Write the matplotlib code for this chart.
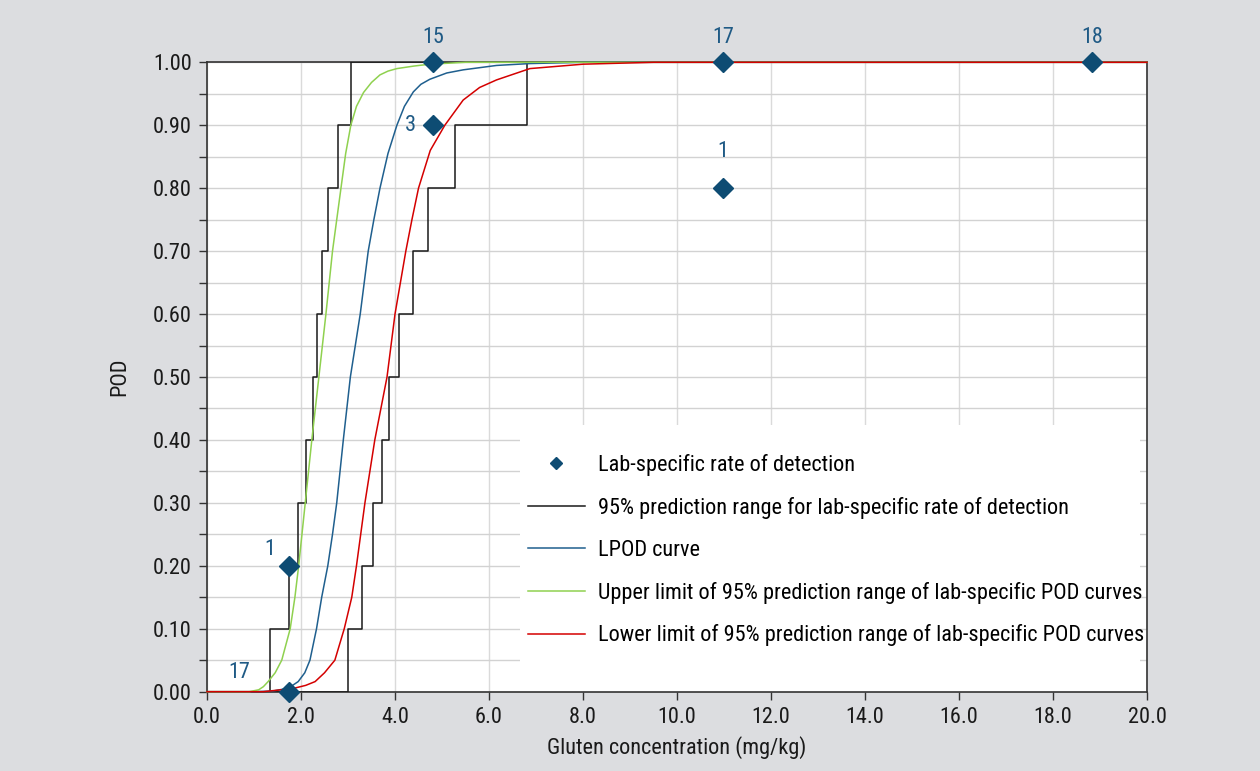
import matplotlib
matplotlib.use("Agg")
import matplotlib.pyplot as plt
from matplotlib.patches import Rectangle
import numpy as np

plt.rcParams['font.family'] = ['Roboto Condensed', 'Archivo Narrow', 'Liberation Sans', 'DejaVu Sans']

# lab-specific rates of detection (diamonds) and number of labs
lab_conc = [1.74, 1.74, 4.81, 4.81, 10.98, 10.98, 18.83]
lab_pod = [0.0, 0.2, 0.9, 1.0, 0.8, 1.0, 1.0]
lab_count = ["17", "1", "3", "15", "1", "17", "18"]

# 95% prediction range for lab-specific rate of detection (step functions)
step_levels = [0.0, 0.1, 0.2, 0.3, 0.4, 0.5, 0.6, 0.7, 0.8, 0.9, 1.0, 1.0]
step_upper_x = [0.0, 1.33, 1.74, 1.93, 2.11, 2.26, 2.33, 2.44, 2.58, 2.78, 3.06, 20.0]
step_lower_x = [0.0, 3.01, 3.30, 3.53, 3.72, 3.88, 4.09, 4.39, 4.70, 5.28, 6.80, 20.0]

# LPOD curve
lpod_x = [0.0, 1.0, 1.4, 1.62, 1.80, 1.94, 2.08, 2.19, 2.33, 2.44, 2.57, 2.67, 2.76, 2.90,
          3.05, 3.26, 3.43, 3.55, 3.68, 3.85, 4.04, 4.20, 4.39, 4.55, 4.74, 5.10, 5.45,
          6.16, 6.87, 8.0, 20.0]
lpod_y = [0.0, 0.0, 0.001, 0.004, 0.009, 0.016, 0.03, 0.05, 0.10, 0.15, 0.2, 0.25, 0.3, 0.4,
          0.5, 0.6, 0.7, 0.75, 0.8, 0.855, 0.9, 0.93, 0.953, 0.965, 0.973, 0.983, 0.988,
          0.995, 0.998, 1.0, 1.0]

# upper limit of prediction range of lab-specific POD curves
upper_x = [0.0, 0.9, 1.1, 1.2, 1.30, 1.45, 1.59, 1.77, 1.87, 1.95, 2.02, 2.09, 2.23, 2.38,
           2.53, 2.67, 2.76, 2.85, 2.95, 3.06, 3.18, 3.33, 3.50, 3.68, 3.85, 4.04, 4.40,
           4.74, 5.5, 20.0]
upper_y = [0.0, 0.0, 0.003, 0.008, 0.016, 0.03, 0.05, 0.10, 0.15, 0.2, 0.25, 0.3, 0.4, 0.5,
           0.6, 0.7, 0.75, 0.8, 0.855, 0.9, 0.93, 0.952, 0.968, 0.98, 0.986, 0.99, 0.994,
           0.997, 1.0, 1.0]

# lower limit of prediction range of lab-specific POD curves
lower_x = [0.0, 1.2, 1.83, 2.10, 2.30, 2.50, 2.72, 2.92, 3.08, 3.18, 3.27, 3.36, 3.57, 3.83,
           4.00, 4.23, 4.36, 4.50, 4.75, 5.06, 5.45, 5.80, 6.16, 6.87, 8.0, 9.5, 20.0]
lower_y = [0.0, 0.0, 0.005, 0.01, 0.016, 0.03, 0.05, 0.10, 0.15, 0.2, 0.25, 0.3, 0.4, 0.5,
           0.6, 0.7, 0.75, 0.8, 0.86, 0.9, 0.94, 0.96, 0.972, 0.99, 0.997, 1.0, 1.0]

label_offsets = [(-36, 14), (-14, 12), (-16.5, 0), (0, 18), (0, 26.5), (0, 18), (0, 18)]

FS = 16

fig = plt.figure(figsize=(12.6, 7.71), dpi=100, facecolor='#dcdde0')
ax = fig.add_axes([0.1643, 0.1029, 0.746, 0.8163])
ax.set_facecolor('white')

ax.set_xlim(0, 20)
ax.set_ylim(0, 1)
ax.set_xticks(np.arange(0, 20.1, 2))
ax.set_xticklabels([f"{v:.1f}" for v in np.arange(0, 20.1, 2)])
ax.set_yticks(np.arange(0, 1.01, 0.1))
ax.set_yticklabels([f"{v:.2f}" for v in np.arange(0, 1.01, 0.1)])
ax.set_yticks(np.arange(0.05, 1.0, 0.1), minor=True)
ax.grid(True, which='both', axis='y', color='#d2d2d2', lw=1.0, zorder=0)
ax.grid(True, which='major', axis='x', color='#dadada', lw=1.0, zorder=0)
ax.set_axisbelow(True)

ax.tick_params(axis='both', which='major', direction='out', length=6, width=1, pad=5,
               color='#333333', labelsize=FS, labelcolor='#1a1a1a')
ax.tick_params(axis='y', which='minor', direction='out', length=6, width=1, color='#333333')
for s in ax.spines.values():
    s.set_color('#333333')
    s.set_linewidth(1.2)

# white legend background covering the grid
ax.add_patch(Rectangle((0.333, 0.0), 0.660, 0.424, transform=ax.transAxes,
                       facecolor='white', edgecolor='none', zorder=1))

ax.step(step_upper_x, step_levels, where='post', color='#1a1a1a', lw=1.1, zorder=3,
        label='95% prediction range for lab-specific rate of detection')
ax.step(step_lower_x, step_levels, where='post', color='#1a1a1a', lw=1.1, zorder=3)
ax.plot(lpod_x, lpod_y, color='#1f5f8e', lw=1.1, zorder=4, clip_on=False, label='LPOD curve')
ax.plot(upper_x, upper_y, color='#8fd14f', lw=1.1, zorder=4, clip_on=False,
        label='Upper limit of 95% prediction range of lab-specific POD curves')
ax.plot(lower_x, lower_y, color='#d40000', lw=1.1, zorder=4, clip_on=False,
        label='Lower limit of 95% prediction range of lab-specific POD curves')
ax.plot(lab_conc, lab_pod, 'D', color='#0e4c73', ms=10, ls='none', zorder=6, clip_on=False,
        label='Lab-specific rate of detection')

for xv, yv, t, off in zip(lab_conc, lab_pod, lab_count, label_offsets):
    ax.annotate(t, (xv, yv), xytext=off, textcoords='offset points', ha='center', va='center',
                fontsize=FS, color='#1f5a85', zorder=7, annotation_clip=False)

h, l = ax.get_legend_handles_labels()
order = [4, 0, 1, 2, 3]
leg = ax.legend([h[i] for i in order], [l[i] for i in order], loc='upper left',
                bbox_to_anchor=(0.332, 0.392), frameon=False, fontsize=FS,
                handlelength=2.55, handletextpad=0.6, labelspacing=0.94, markerscale=0.6,
                borderaxespad=0)
leg.set_zorder(8)

ax.set_xlabel('Gluten concentration (mg/kg)', fontsize=FS, color='#1a1a1a', labelpad=6)
ax.set_ylabel('POD', fontsize=FS, color='#1a1a1a', labelpad=16)

fig.savefig('out.png', dpi=100, facecolor=fig.get_facecolor())
